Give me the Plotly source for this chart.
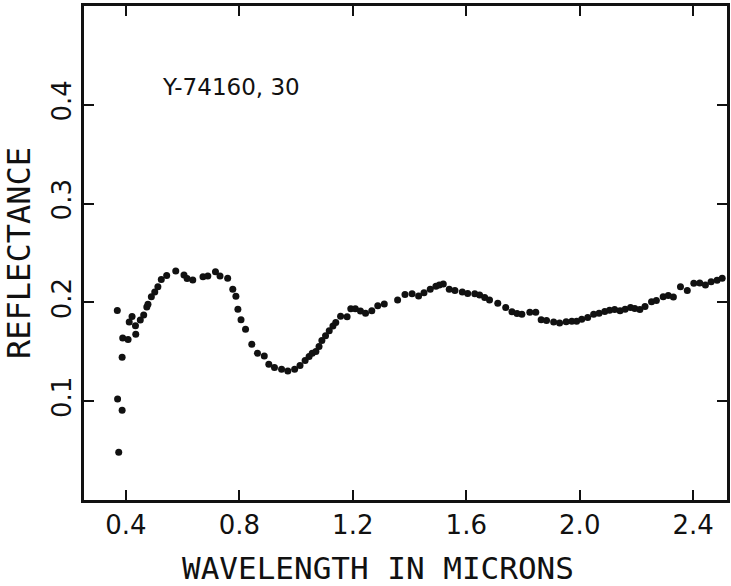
import plotly.graph_objects as go

# Reflectance spectrum of Y-74160,30 (wavelength in microns, reflectance)
wavelength = [
    0.370, 0.387, 0.371, 0.387, 0.375, 0.389, 0.408, 0.435, 0.412, 0.422,
    0.434, 0.451, 0.463, 0.474, 0.478, 0.490, 0.502, 0.513, 0.525, 0.544,
    0.576, 0.605, 0.616, 0.636, 0.672, 0.689, 0.716, 0.732, 0.759, 0.777,
    0.788, 0.795, 0.806, 0.822, 0.844, 0.864, 0.888, 0.904, 0.924, 0.949,
    0.971, 0.995, 1.014, 1.032, 1.046, 1.057, 1.070, 1.081, 1.091, 1.104,
    1.117, 1.130, 1.140, 1.157, 1.180, 1.193, 1.209, 1.227, 1.245, 1.267,
    1.288, 1.311, 1.358, 1.384, 1.409, 1.432, 1.451, 1.473, 1.493, 1.505,
    1.519, 1.540, 1.560, 1.586, 1.605, 1.630, 1.647, 1.665, 1.682, 1.711,
    1.739, 1.761, 1.779, 1.796, 1.824, 1.845, 1.864, 1.883, 1.908, 1.929,
    1.952, 1.972, 1.989, 2.007, 2.028, 2.049, 2.068, 2.088, 2.105, 2.123,
    2.142, 2.160, 2.179, 2.194, 2.212, 2.230, 2.253, 2.270, 2.294, 2.312,
    2.330, 2.355, 2.379, 2.402, 2.423, 2.443, 2.463, 2.484, 2.502,
]
reflectance = [
    0.1918, 0.1444, 0.1022, 0.0908, 0.0483, 0.1640, 0.1624, 0.1677, 0.1802, 0.1857,
    0.1764, 0.1822, 0.1872, 0.1953, 0.1981, 0.2058, 0.2105, 0.2159, 0.2232, 0.2272,
    0.2318, 0.2277, 0.2242, 0.2227, 0.2260, 0.2267, 0.2311, 0.2267, 0.2244, 0.2133,
    0.2062, 0.1931, 0.1825, 0.1729, 0.1576, 0.1485, 0.1457, 0.1373, 0.1341, 0.1323,
    0.1306, 0.1323, 0.1361, 0.1412, 0.1452, 0.1485, 0.1503, 0.1554, 0.1614, 0.1662,
    0.1713, 0.1761, 0.1797, 0.1859, 0.1855, 0.1935, 0.1935, 0.1913, 0.1890, 0.1916,
    0.1966, 0.1984, 0.2024, 0.2080, 0.2088, 0.2065, 0.2098, 0.2133, 0.2163, 0.2176,
    0.2186, 0.2133, 0.2121, 0.2105, 0.2090, 0.2087, 0.2075, 0.2050, 0.2024, 0.1991,
    0.1948, 0.1906, 0.1887, 0.1880, 0.1900, 0.1900, 0.1824, 0.1817, 0.1802, 0.1791,
    0.1805, 0.1809, 0.1809, 0.1830, 0.1847, 0.1880, 0.1890, 0.1908, 0.1920, 0.1928,
    0.1915, 0.1931, 0.1948, 0.1938, 0.1928, 0.1959, 0.2007, 0.2020, 0.2058, 0.2070,
    0.2055, 0.2159, 0.2121, 0.2193, 0.2196, 0.2176, 0.2210, 0.2224, 0.2244,
]

x_ticks = [0.4, 0.8, 1.2, 1.6, 2.0, 2.4]
x_tick_labels = ["0.4", "0.8", "1.2", "1.6", "2.0", "2.4"]
y_ticks = [0.1, 0.2, 0.3, 0.4]
y_tick_labels = ["0.1", "0.2", "0.3", "0.4"]

sample_label = "Y-74160, 30"
x_title = "WAVELENGTH IN MICRONS"
y_title = "REFLECTANCE"

TICK_FONT = "DejaVu Sans, sans-serif"
# wide-set monospace lettering for the axis titles
TITLE_FONT = "DejaVu Sans Mono, Liberation Mono, monospace"
INK = "#111111"

fig = go.Figure()
fig.add_trace(go.Scatter(
    x=wavelength, y=reflectance, mode="markers",
    marker=dict(size=7, color=INK, line=dict(width=0)),
    showlegend=False, cliponaxis=False,
))

axis_common = dict(
    showline=True, linewidth=2.5, linecolor=INK, mirror="ticks",
    ticks="inside", ticklen=10, tickwidth=2, tickcolor=INK,
    showgrid=False, zeroline=False,
    tickfont=dict(family=TICK_FONT, size=26, color=INK),
)

fig.update_xaxes(
    range=[0.2526, 2.519], tickvals=x_ticks, ticktext=x_tick_labels,
    **axis_common,
)
fig.update_yaxes(
    range=[0.0, 0.5], tickvals=y_ticks, ticktext=y_tick_labels, tickangle=-90,
    title_text=y_title, title_standoff=16,
    title_font=dict(family=TITLE_FONT, size=32, color=INK),
    **axis_common,
)

# x-axis title, set slightly left of the plot centre
fig.add_annotation(
    text=x_title, xref="paper", yref="paper", x=0.457, y=-0.138,
    xanchor="center", yanchor="middle", showarrow=False,
    font=dict(family=TITLE_FONT, size=31, color=INK),
)

fig.add_annotation(
    text=sample_label, xref="paper", yref="paper", x=0.118, y=0.836,
    xanchor="left", yanchor="middle", showarrow=False,
    font=dict(family=TICK_FONT, size=23, color=INK),
)

fig.update_layout(
    width=731, height=586,
    margin=dict(l=84, r=1, t=6, b=86),
    paper_bgcolor="white", plot_bgcolor="white",
)

fig.write_html("out.html")
